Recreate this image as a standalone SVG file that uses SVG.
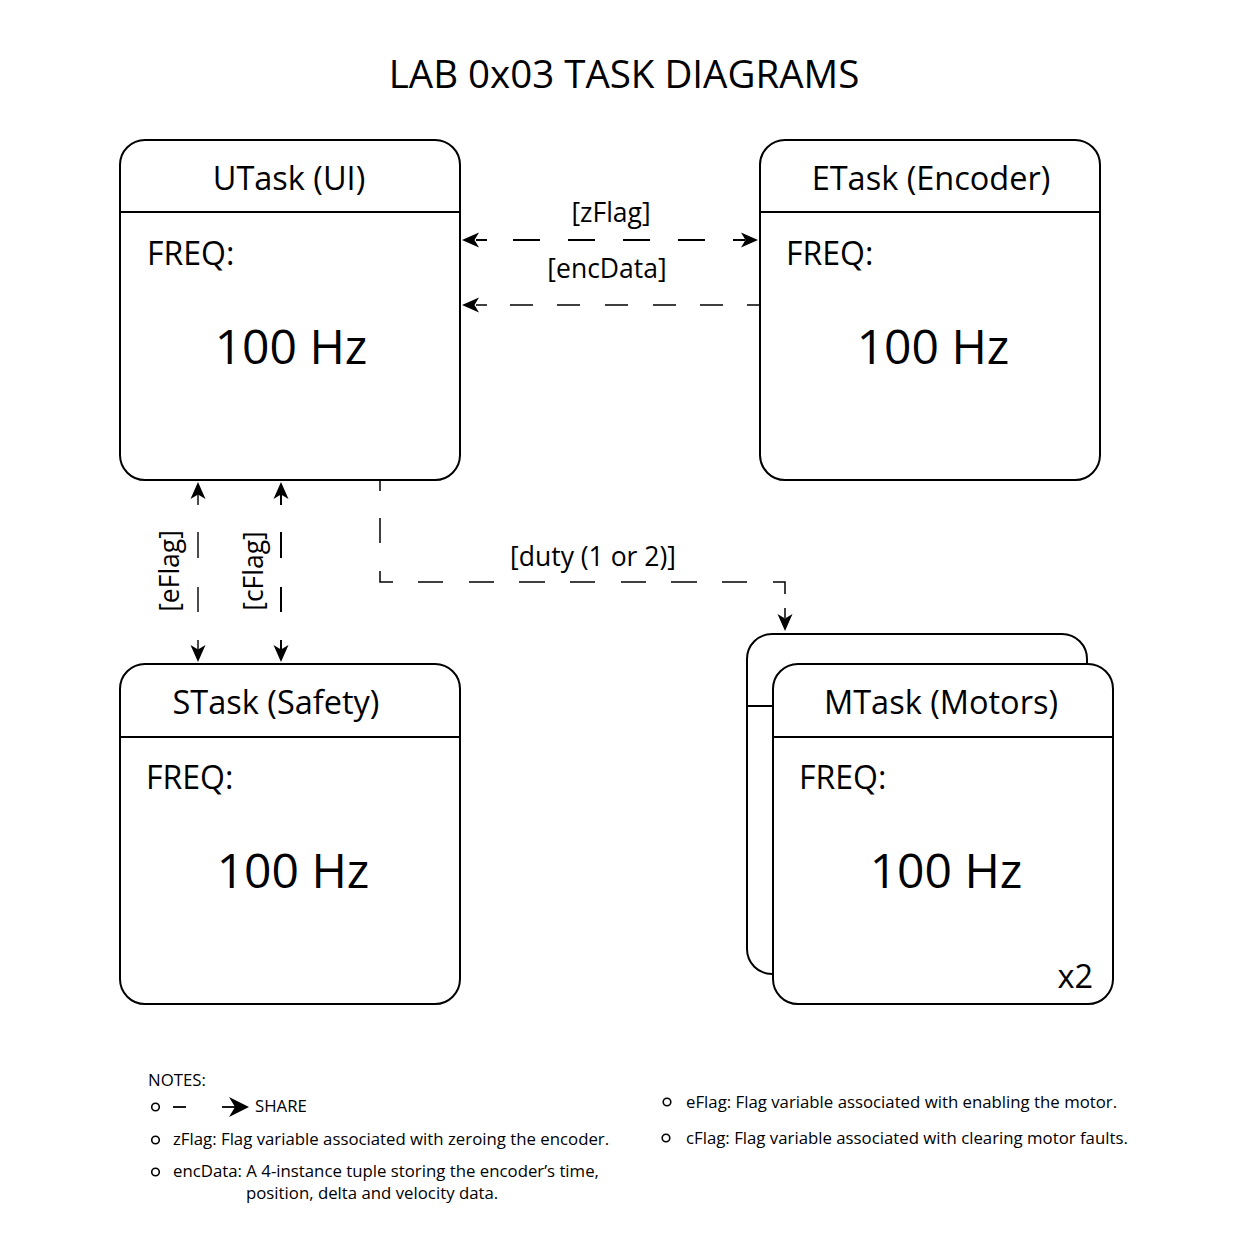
<svg xmlns="http://www.w3.org/2000/svg" width="1250" height="1250" viewBox="0 0 1250 1250">
<style>
text{font-family:"Open Sans","Noto Sans","DejaVu Sans",sans-serif;fill:#000}
.box{fill:#fff;stroke:#000;stroke-width:2}
.div{stroke:#000;stroke-width:2}
.ttl{font-size:32.5px;text-anchor:middle}
.freq{font-size:32px}
.hz{font-size:48px;text-anchor:middle}
.lbl{font-size:26.5px;text-anchor:middle}
.note{font-size:16.8px}
.ah{fill:#000}
.bul{fill:none;stroke:#000;stroke-width:1.6}
</style>
<defs>
<path id="ah" d="M0,0 L17,-7.5 L12.5,0 L17,7.5 Z"/>
</defs>
<rect width="1250" height="1250" fill="#fff"/>
<text x="624" y="88" font-size="38.5" text-anchor="middle">LAB 0x03 TASK DIAGRAMS</text>

<g id="utask">
<rect class="box" x="120" y="140" width="340" height="340" rx="25"/>
<line class="div" x1="120" y1="212" x2="460" y2="212"/>
<text class="ttl" x="289" y="190">UTask (UI)</text>
<text class="freq" x="147" y="265">FREQ:</text>
<text class="hz" x="291" y="364">100 Hz</text>
</g>

<g id="etask">
<rect class="box" x="760" y="140" width="340" height="340" rx="25"/>
<line class="div" x1="760" y1="212" x2="1100" y2="212"/>
<text class="ttl" x="931" y="190">ETask (Encoder)</text>
<text class="freq" x="786" y="265">FREQ:</text>
<text class="hz" x="933" y="364">100 Hz</text>
</g>

<g id="stask">
<rect class="box" x="120" y="664" width="340" height="340" rx="25"/>
<line class="div" x1="120" y1="737" x2="460" y2="737"/>
<text class="ttl" x="276" y="714">STask (Safety)</text>
<text class="freq" x="146" y="789">FREQ:</text>
<text class="hz" x="293" y="888">100 Hz</text>
</g>

<g id="mtask">
<rect class="box" x="747" y="634" width="340" height="340" rx="25"/>
<line class="div" x1="747" y1="706" x2="773" y2="706"/>
<rect class="box" x="773" y="664" width="340" height="340" rx="25"/>
<line class="div" x1="773" y1="737" x2="1113" y2="737"/>
<text class="ttl" x="941" y="714">MTask (Motors)</text>
<text class="freq" x="799" y="789">FREQ:</text>
<text class="hz" x="946" y="888">100 Hz</text>
<text x="1093" y="988" font-size="32.5" text-anchor="end">x2</text>
</g>

<g id="connectors" fill="none" stroke="#000">
<g id="c-zflag">
<path stroke-width="2" d="M476,240H487 M513,240H540 M568,240H595 M623,240H650 M678,240H705 M733,240H745"/>
<use href="#ah" class="ah" stroke="none" transform="translate(462,240)"/>
<use href="#ah" class="ah" stroke="none" transform="translate(758,240) rotate(180)"/>
<text class="lbl" x="611" y="222" stroke="none">[zFlag]</text>
</g>
<g id="c-encdata">
<path stroke-width="1.3" d="M476,305H487 M510,305H533 M557,305H580 M605,305H628 M653,305H676 M700,305H723 M747,305H760"/>
<use href="#ah" class="ah" stroke="none" transform="translate(462,305)"/>
<text class="lbl" x="607" y="278" stroke="none">[encData]</text>
</g>
<g id="c-eflag">
<path stroke-width="1.4" d="M198,494V505 M198,532V558 M198,587V612 M198,640V650"/>
<use href="#ah" class="ah" stroke="none" transform="translate(198,482) rotate(90)"/>
<use href="#ah" class="ah" stroke="none" transform="translate(198,662) rotate(-90)"/>
<text class="lbl" x="0" y="0" stroke="none" transform="translate(179,571) rotate(-90)">[eFlag]</text>
</g>
<g id="c-cflag">
<path stroke-width="2" d="M281,494V505 M281,532V558 M281,587V612 M281,640V650"/>
<use href="#ah" class="ah" stroke="none" transform="translate(281,482) rotate(90)"/>
<use href="#ah" class="ah" stroke="none" transform="translate(281,662) rotate(-90)"/>
<text class="lbl" x="0" y="0" stroke="none" transform="translate(263,571) rotate(-90)">[cFlag]</text>
</g>
<g id="c-duty">
<path stroke-width="1.5" d="M380,481V491 M380,518V543 M380,571V582H393 M418,582H443 M469,582H494 M519,582H545 M570,582H595 M621,582H646 M671,582H697 M722,582H747 M773,582H785V594 M785,608V618"/>
<use href="#ah" class="ah" stroke="none" transform="translate(785,631) rotate(-90)"/>
<text class="lbl" x="593" y="566" stroke="none">[duty (1 or 2)]</text>
</g>
</g>

<g id="notes">
<text class="note" x="148" y="1086">NOTES:</text>
<circle class="bul" cx="155.5" cy="1107" r="3.8"/>
<line x1="173" y1="1107" x2="186" y2="1107" stroke="#000" stroke-width="1.8"/>
<line x1="222" y1="1107" x2="236" y2="1107" stroke="#000" stroke-width="1.8"/>
<path d="M249,1107 L229,1097 L235,1107 L229,1117 Z" fill="#000"/>
<text class="note" x="255" y="1112">SHARE</text>
<circle class="bul" cx="155.5" cy="1140" r="3.8"/>
<text class="note" x="173" y="1145">zFlag: Flag variable associated with zeroing the encoder.</text>
<circle class="bul" cx="155.5" cy="1172" r="3.8"/>
<text class="note" x="173" y="1177">encData: A 4-instance tuple storing the encoder’s time,</text>
<text class="note" x="246" y="1199">position, delta and velocity data.</text>
<circle class="bul" cx="667" cy="1102" r="3.8"/>
<text class="note" x="686" y="1108">eFlag: Flag variable associated with enabling the motor.</text>
<circle class="bul" cx="666" cy="1138" r="3.8"/>
<text class="note" x="686" y="1144">cFlag: Flag variable associated with clearing motor faults.</text>
</g>
</svg>
